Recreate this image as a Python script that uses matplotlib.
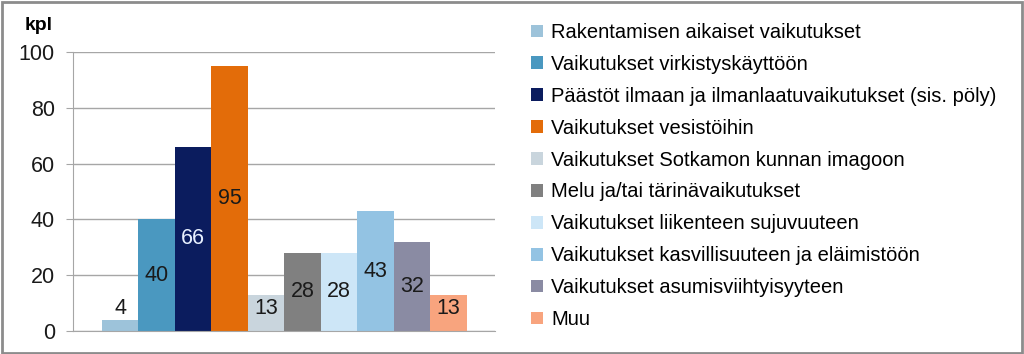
import matplotlib
matplotlib.use('Agg')
import matplotlib.pyplot as plt
from matplotlib.patches import Rectangle, Patch

# data
categories = ['Rakentamisen aikaiset vaikutukset',
              'Vaikutukset virkistyskäyttöön',
              'Päästöt ilmaan ja ilmanlaatuvaikutukset (sis. pöly)',
              'Vaikutukset vesistöihin',
              'Vaikutukset Sotkamon kunnan imagoon',
              'Melu ja/tai tärinävaikutukset',
              'Vaikutukset liikenteen sujuvuuteen',
              'Vaikutukset kasvillisuuteen ja eläimistöön',
              'Vaikutukset asumisviihtyisyyteen',
              'Muu']
values = [4, 40, 66, 95, 13, 28, 28, 43, 32, 13]
yticks = [0, 20, 40, 60, 80, 100]

colors = ['#9DC3DA', '#4A98C0', '#0B1C5E', '#E36C09', '#C9D5DD',
          '#808080', '#CDE6F7', '#93C3E3', '#8A8BA3', '#F8A47E']
label_colors = ['#1a1a1a'] * 10
label_colors[2] = '#E8F0FF'

plt.rcParams['font.family'] = ['Liberation Sans', 'DejaVu Sans']

fig = plt.figure(figsize=(10.24, 3.54), dpi=100)
fig.patches.append(Rectangle((0.002, 0.004), 0.996, 0.99, transform=fig.transFigure,
                             fill=False, edgecolor='#8c8c8c', linewidth=2))

ax = fig.add_axes([73/1024, 1 - 331/354, 422/1024, 279/354])
x = list(range(len(values)))
ax.bar(x, values, width=1.0, color=colors, zorder=2)
for i, v in enumerate(values):
    ax.text(i, max(v / 2.0, 8), str(v), ha='center', va='center',
            fontsize=15.5, color=label_colors[i], zorder=3)

ax.set_xlim(-1.29, 10.27)
ax.set_ylim(0, 100)
ax.set_yticks(yticks)
ax.set_xticks([])
ax.yaxis.grid(True, color='#a6a6a6', linewidth=1, zorder=0)
ax.set_axisbelow(True)
for s in ['top', 'right']:
    ax.spines[s].set_visible(False)
ax.spines['left'].set_color('#a6a6a6')
ax.spines['bottom'].set_color('#a6a6a6')
ax.tick_params(axis='y', colors='#a6a6a6', length=5, labelsize=15.5, labelcolor='#1a1a1a', pad=8)
fig.text(53/1024, 1 - 25/354, 'kpl', ha='right', va='center', fontsize=14, fontweight='bold')

handles = [Patch(facecolor=c, edgecolor='none') for c in colors]
fig.legend(handles, categories, loc='upper left', bbox_to_anchor=(531/1024, 1 - 23/354),
           frameon=False, fontsize=14.5, handlelength=0.6, handleheight=0.6,
           handletextpad=0.4, labelspacing=0.64, borderaxespad=0, borderpad=0)

fig.savefig('out.png', dpi=100)
